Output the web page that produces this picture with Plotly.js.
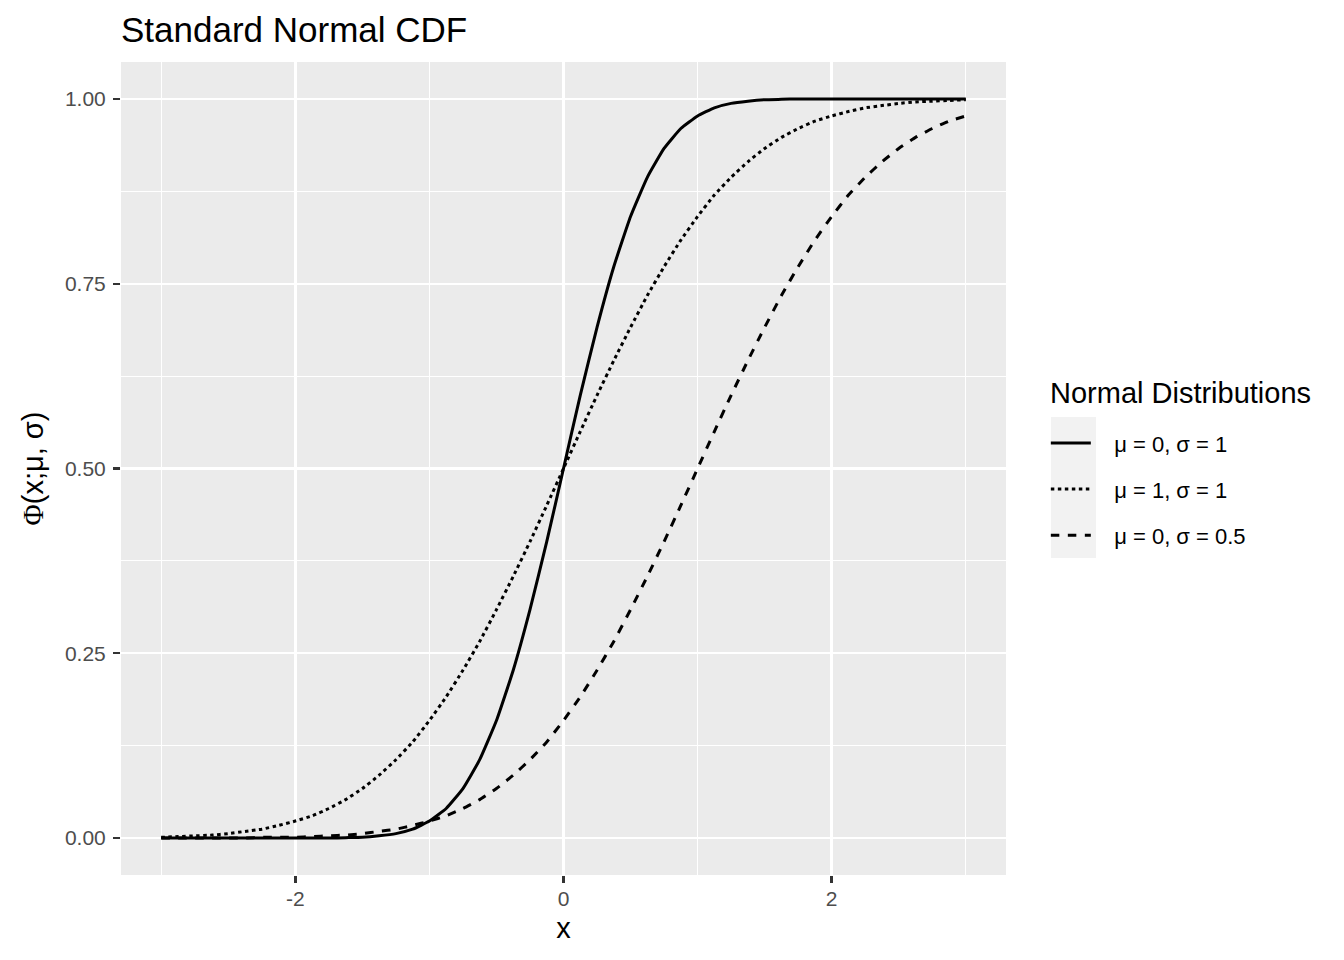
<!DOCTYPE html>
<html>
<head>
<meta charset="utf-8">
<script src="https://cdn.plot.ly/plotly-3.0.1.min.js"></script>
<style>html,body{margin:0;padding:0;background:#fff;}#chart{width:1344px;height:960px;}</style>
</head>
<body>
<div id="chart"></div>
<script>
// Values
const xValues = [-3,-2.875,-2.75,-2.625,-2.5,-2.375,-2.25,-2.125,-2,-1.875,-1.75,-1.625,-1.5,-1.375,-1.25,-1.125,-1,-0.875,-0.75,-0.625,-0.5,-0.375,-0.25,-0.125,0,0.125,0.25,0.375,0.5,0.625,0.75,0.875,1,1.125,1.25,1.375,1.5,1.625,1.75,1.875,2,2.125,2.25,2.375,2.5,2.625,2.75,2.875,3];
const seriesNames = ["μ = 0, σ = 1", "μ = 1, σ = 1", "μ = 0, σ = 0.5"];
const solidValues  = [0,0,0,0,0,0,0,0,0,0,0,0.0005,0.001,0.003,0.006,0.012,0.023,0.040,0.067,0.106,0.159,0.227,0.309,0.401,0.5,0.599,0.691,0.773,0.841,0.894,0.933,0.960,0.977,0.988,0.994,0.997,0.999,0.9995,1,1,1,1,1,1,1,1,1,1,1];
const dottedValues = [0.001,0.002,0.003,0.004,0.006,0.009,0.012,0.017,0.023,0.030,0.040,0.052,0.067,0.085,0.106,0.130,0.159,0.191,0.227,0.266,0.309,0.354,0.401,0.450,0.5,0.550,0.599,0.646,0.691,0.734,0.773,0.809,0.841,0.870,0.894,0.915,0.933,0.948,0.960,0.970,0.977,0.983,0.988,0.991,0.994,0.996,0.997,0.998,0.999];
const dashedValues = [0,0,0,0,0,0,0.001,0.001,0.001,0.002,0.003,0.004,0.006,0.009,0.012,0.017,0.023,0.030,0.040,0.052,0.067,0.085,0.106,0.130,0.159,0.191,0.227,0.266,0.309,0.354,0.401,0.450,0.5,0.550,0.599,0.646,0.691,0.734,0.773,0.809,0.841,0.870,0.894,0.915,0.933,0.948,0.960,0.970,0.977];
const yTickVals = [0, 0.25, 0.5, 0.75, 1];
const yTickText = ["0.00", "0.25", "0.50", "0.75", "1.00"];
const xTickVals = [-2, 0, 2];
const xTickText = ["-2", "0", "2"];
const legendTitle = "Normal Distributions";

const series = [solidValues, dottedValues, dashedValues];
const dashes = ["solid", "3.5px,3.5px", "8.5px,8.5px"];
const pad = "\u00a0\u00a0\u00a0";

const traces = series.map((vals, i) => ({
  type: "scatter",
  mode: "lines",
  x: xValues,
  y: vals,
  name: pad + seriesNames[i],
  legendgroup: "g" + i,
  line: {color: "#000000", width: 3, dash: dashes[i], shape: "spline", smoothing: 0.4}
}));

const font = "Liberation Sans, Arial, sans-serif";

const layout = {
  width: 1344,
  height: 960,
  paper_bgcolor: "#FFFFFF",
  plot_bgcolor: "#EBEBEB",
  margin: {l: 121, r: 338, t: 62, b: 85},
  font: {family: font, color: "#000000"},
  title: {
    text: "Standard Normal CDF",
    font: {family: font, size: 35, color: "#000000"},
    x: 121 / 1344, xanchor: "left", xref: "container",
    y: 1 - 30 / 960, yanchor: "middle", yref: "container"
  },
  xaxis: {
    range: [-3.3, 3.3],
    tickvals: xTickVals,
    ticktext: xTickText,
    ticks: "outside", ticklen: 7, tickwidth: 2.4, tickcolor: "#333333",
    tickfont: {family: font, size: 21, color: "#4D4D4D"},
    ticklabelstandoff: -2,
    showgrid: true, gridcolor: "#FFFFFF", gridwidth: 2.4,
    minor: {tick0: -3, dtick: 1, showgrid: true, gridcolor: "#FFFFFF", gridwidth: 1.2, ticks: ""},
    zeroline: false, showline: false,
    title: {text: "x", font: {family: font, size: 29, color: "#000000"}, standoff: 8}
  },
  yaxis: {
    range: [-0.05, 1.05],
    tickvals: yTickVals,
    ticktext: yTickText,
    ticks: "outside", ticklen: 7, tickwidth: 2.4, tickcolor: "#333333",
    tickfont: {family: font, size: 21, color: "#4D4D4D"},
    ticklabelstandoff: 3,
    showgrid: true, gridcolor: "#FFFFFF", gridwidth: 2.4,
    minor: {tick0: 0.125, dtick: 0.25, showgrid: true, gridcolor: "#FFFFFF", gridwidth: 1.2, ticks: ""},
    zeroline: false, showline: false,
    title: {text: "<span style=\"font-family:Liberation Serif\">Φ</span>(x;μ, σ)", font: {family: font, size: 29, color: "#000000"}, standoff: 12}
  },
  legend: {
    x: 1.045, xanchor: "left",
    y: 0.557, yanchor: "top",
    bgcolor: "rgba(0,0,0,0)",
    traceorder: "grouped",
    tracegroupgap: 14.5,
    itemwidth: 40,
    font: {family: font, size: 22, color: "#000000"}
  },
  annotations: [{
    text: legendTitle, showarrow: false,
    xref: "paper", yref: "paper",
    x: (1048 - 121) / 885, xanchor: "left",
    y: (875 - 393) / 813, yanchor: "middle",
    font: {family: font, size: 29, color: "#000000"}
  }],
  shapes: [{
    type: "rect", xref: "paper", yref: "paper",
    x0: (1051 - 121) / 885, x1: (1096 - 121) / 885,
    y0: (875 - 558) / 813, y1: (875 - 417) / 813,
    fillcolor: "#F2F2F2", line: {width: 0}, layer: "below"
  }]
};

Plotly.newPlot("chart", traces, layout, {staticPlot: true, displayModeBar: false});
</script>
</body>
</html>
